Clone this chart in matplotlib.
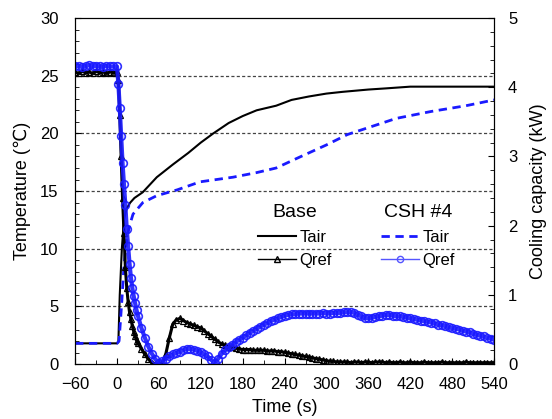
import numpy as np
import matplotlib
matplotlib.use("Agg")
import matplotlib.pyplot as plt
from matplotlib.ticker import MultipleLocator
from matplotlib.lines import Line2D

plt.rcParams['font.family'] = ['Liberation Sans', 'DejaVu Sans']

# Air temperature (left axis, deg C)
base_tair_t = [-60, -30, 0, 2, 4, 7, 10, 14, 19, 25, 37, 57, 80, 102, 120, 138,
               160, 180, 200, 228, 250, 275, 300, 323, 360, 385, 420, 460, 500, 540]
base_tair = [1.8, 1.8, 1.8, 1.9, 6.0, 10.0, 12.5, 13.5, 14.0, 14.4, 14.9, 16.2,
             17.3, 18.3, 19.2, 20.0, 20.9, 21.5, 22.0, 22.4, 22.9, 23.2, 23.45,
             23.6, 23.8, 23.9, 24.05, 24.05, 24.05, 24.05]

csh_tair_t = [-60, -30, 0, 3, 7, 10, 14, 18, 23, 37, 57, 86, 119, 166, 200, 228,
              260, 300, 330, 360, 400, 450, 500, 540]
csh_tair = [1.8, 1.8, 1.8, 2.0, 5.5, 8.5, 10.8, 12.0, 13.0, 14.0, 14.6, 15.1,
            15.8, 16.2, 16.6, 17.0, 17.9, 19.0, 19.9, 20.5, 21.3, 21.9, 22.4, 22.9]

# Cooling capacity (right axis, kW)
q_time = list(range(-60, 0, 5)) + list(range(0, 30, 2)) + list(range(30, 541, 5))

base_qref = [
    4.22, 4.20, 4.23, 4.21, 4.22, 4.20, 4.23, 4.21, 4.22, 4.20, 4.22, 4.21,
    4.22, 4.10, 3.60, 3.00, 2.40, 1.90, 1.40, 1.10, 0.90, 0.75, 0.65, 0.55, 0.47, 0.40, 0.34,
    0.30, 0.22, 0.14, 0.07, 0.02, 0.00, 0.00, 0.02, 0.15, 0.38,
    0.58, 0.64, 0.66, 0.63, 0.60, 0.58, 0.56, 0.54, 0.52, 0.48,
    0.44, 0.40, 0.36, 0.32, 0.29, 0.27, 0.25, 0.24, 0.23, 0.22,
    0.21, 0.21, 0.21, 0.20, 0.20, 0.20, 0.20, 0.19, 0.19, 0.19,
    0.18, 0.18, 0.17, 0.16, 0.15, 0.14, 0.13, 0.12, 0.11, 0.10,
    0.09, 0.08, 0.07, 0.06, 0.05, 0.04, 0.04, 0.03, 0.03, 0.03,
    0.03, 0.02, 0.03, 0.03, 0.02, 0.03, 0.03, 0.02, 0.03, 0.03,
    0.03, 0.02, 0.03, 0.02, 0.02, 0.03, 0.02, 0.02, 0.03, 0.02,
    0.02, 0.02, 0.03, 0.02, 0.02, 0.02, 0.02, 0.03, 0.02, 0.02,
    0.02, 0.02, 0.02, 0.02, 0.03, 0.02, 0.02, 0.02, 0.02, 0.02,
    0.02, 0.02, 0.02,
]

csh_qref = [
    4.30, 4.31, 4.29, 4.30, 4.32, 4.30, 4.31, 4.30, 4.29, 4.31, 4.30, 4.30,
    4.30, 4.05, 3.70, 3.30, 2.90, 2.60, 2.30, 1.95, 1.70, 1.45, 1.25, 1.10, 0.98, 0.88, 0.78,
    0.70, 0.52, 0.38, 0.25, 0.15, 0.07, 0.02, 0.04, 0.08, 0.11,
    0.14, 0.16, 0.18, 0.20, 0.22, 0.22, 0.21, 0.19, 0.17, 0.14,
    0.11, 0.06, 0.02, 0.08, 0.15, 0.20, 0.24, 0.28, 0.32, 0.35,
    0.38, 0.42, 0.45, 0.48, 0.51, 0.54, 0.57, 0.59, 0.62, 0.64,
    0.66, 0.68, 0.70, 0.71, 0.72, 0.72, 0.73, 0.73, 0.73, 0.73,
    0.73, 0.73, 0.73, 0.74, 0.73, 0.73, 0.74, 0.74, 0.74, 0.75,
    0.75, 0.75, 0.74, 0.71, 0.69, 0.67, 0.66, 0.67, 0.68, 0.69,
    0.70, 0.71, 0.71, 0.70, 0.69, 0.69, 0.68, 0.67, 0.66, 0.65,
    0.64, 0.63, 0.62, 0.61, 0.60, 0.59, 0.57, 0.56, 0.55, 0.53,
    0.52, 0.51, 0.50, 0.48, 0.47, 0.46, 0.44, 0.42, 0.41, 0.40,
    0.38, 0.37, 0.35,
]

x_ticks = [-60, 0, 60, 120, 180, 240, 300, 360, 420, 480, 540]

fig = plt.figure(figsize=(5.52, 4.19), dpi=100)
ax = fig.add_axes([0.136, 0.131, 0.759, 0.826])
ax2 = ax.twinx()

for y in [5, 10, 15, 20, 25]:
    ax.axhline(y, color="#444444", lw=0.9, ls=(0, (2.5, 1.8)), zorder=0)

ax.plot(base_tair_t, base_tair, color="black", lw=1.5, zorder=3)
ax.plot(csh_tair_t, csh_tair, color="#1a1aff", lw=2, ls=(0, (3, 2)), zorder=3)

ax2.plot(q_time, base_qref, color="black", lw=2.2, marker="^", ms=4,
         mfc="none", mec="black", mew=0.9)
ax2.plot(q_time, csh_qref, color="#1a1aff", lw=3, marker="o", ms=5.5,
         mfc="none", mec="#1a1aff", mew=1.2, alpha=0.9)

ax.set_xlim(-60, 540)
ax.set_ylim(0, 30)
ax2.set_ylim(0, 5)
ax.set_xticks(x_ticks)
ax.xaxis.set_minor_locator(MultipleLocator(30))
ax.yaxis.set_major_locator(MultipleLocator(5))
ax.yaxis.set_minor_locator(MultipleLocator(1))
ax2.yaxis.set_major_locator(MultipleLocator(1))
ax2.yaxis.set_minor_locator(MultipleLocator(0.2))

ax.tick_params(axis="both", which="both", direction="in", labelsize=12)
ax.tick_params(which="major", length=4)
ax.tick_params(which="minor", length=3)
ax.tick_params(axis="x", top=False, pad=9)
ax.tick_params(axis="y", pad=12)
ax2.tick_params(axis="y", which="both", direction="in", labelsize=12, pad=10)
ax2.tick_params(which="major", length=4)
ax2.tick_params(which="minor", length=3)

ax.set_xlabel("Time (s)", fontsize=13, labelpad=5)
ax.set_ylabel("Temperature (\u2103)", fontsize=13, labelpad=6)
ax2.set_ylabel("Cooling capacity (kW)", fontsize=13, labelpad=9)

# two-column legend with group titles
h_base = [Line2D([], [], color="black", lw=1.5),
          Line2D([], [], color="black", lw=1, marker="^", ms=4, mfc="none")]
h_csh = [Line2D([], [], color="#1a1aff", lw=2, ls=(0, (3, 2))),
         Line2D([], [], color="#5555ff", lw=1, marker="o", ms=4.5, mfc="none")]
leg1 = ax2.legend(h_base, ["Tair", "Qref"], title="Base", frameon=False,
                  fontsize=12, title_fontsize=14, handlelength=2.3, numpoints=1,
                  handletextpad=0.2, labelspacing=0.5,
                  loc="center", bbox_to_anchor=(295 / 552, 1 - 236 / 419),
                  bbox_transform=fig.transFigure)
ax2.add_artist(leg1)
ax2.legend(h_csh, ["Tair", "Qref"], title="CSH #4", frameon=False,
           fontsize=12, title_fontsize=14, handlelength=2.3, numpoints=1,
           handletextpad=0.2, labelspacing=0.5,
           loc="center", bbox_to_anchor=(418 / 552, 1 - 236 / 419),
           bbox_transform=fig.transFigure)

fig.savefig("out.png", dpi=100)
